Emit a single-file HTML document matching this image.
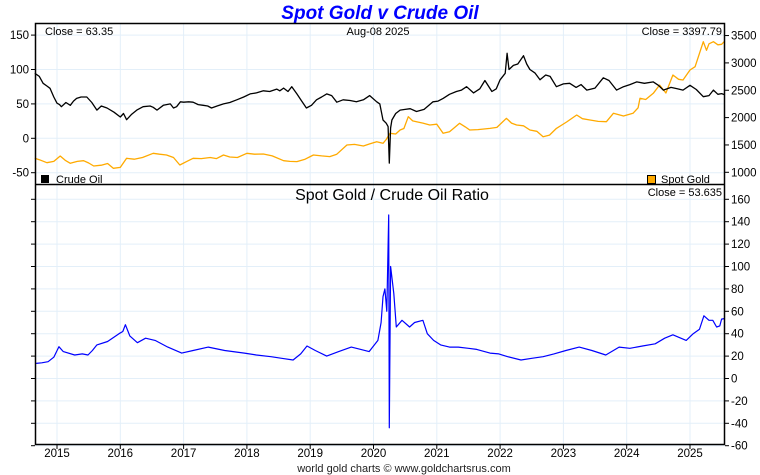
<!DOCTYPE html>
<html><head><meta charset="utf-8"><style>
html,body{margin:0;padding:0;background:#fff;}
svg{display:block;font-family:"Liberation Sans",sans-serif;}
</style></head><body>
<svg id="chart" width="760" height="475" viewBox="0 0 760 475">
<text x="380" y="19" text-anchor="middle" font-size="19" font-weight="bold" font-style="italic" fill="#0000ff">Spot Gold v Crude Oil</text>
<g id="grid"></g>
<g id="series"></g>
<rect x="35.5" y="23.5" width="689" height="421" fill="none" stroke="#000" stroke-width="1.5"/>
<line x1="35" y1="184.5" x2="725" y2="184.5" stroke="#000" stroke-width="1.5"/>
<g id="axes" font-size="11.5" fill="#000"></g>
<text x="45" y="35" font-size="11">Close = 63.35</text>
<text x="378" y="35" font-size="11" text-anchor="middle">Aug-08  2025</text>
<text x="722" y="35" font-size="11" text-anchor="end">Close = 3397.79</text>
<rect x="41" y="175" width="8" height="8" fill="#000"/>
<text x="56" y="183" font-size="11">Crude Oil</text>
<rect x="647.5" y="175.5" width="8" height="8" fill="#ffaa00" stroke="#000"/>
<text x="661" y="183" font-size="11">Spot Gold</text>
<text x="392" y="200" font-size="16" text-anchor="middle">Spot Gold  /  Crude Oil Ratio</text>
<text x="722" y="196" font-size="11" text-anchor="end">Close = 53.635</text>
<text x="404" y="472" font-size="11" text-anchor="middle" fill="#222">world gold charts © www.goldchartsrus.com</text>
</svg>
<script>
const years = [2015,2016,2017,2018,2019,2020,2021,2022,2023,2024,2025];
const oilTicks = [150,100,50,0,-50];
const goldTicks = [3500,3000,2500,2000,1500,1000];
const ratioTicks = [160,140,120,100,80,60,40,20,0,-20,-40,-60];

const oilDates = [2014.65,2014.72,2014.78,2014.84,2014.89,2014.95,2015.0,2015.04,2015.07,2015.14,2015.21,2015.26,2015.31,2015.38,2015.47,2015.55,2015.63,2015.70,2015.79,2015.90,2016.0,2016.05,2016.10,2016.18,2016.26,2016.36,2016.47,2016.52,2016.58,2016.68,2016.79,2016.84,2016.89,2016.95,2017.0,2017.08,2017.15,2017.23,2017.31,2017.38,2017.44,2017.53,2017.63,2017.73,2017.84,2017.95,2018.05,2018.15,2018.26,2018.36,2018.47,2018.52,2018.58,2018.65,2018.71,2018.79,2018.86,2018.94,2019.02,2019.10,2019.18,2019.26,2019.34,2019.42,2019.52,2019.63,2019.73,2019.84,2019.94,2020.05,2020.10,2020.15,2020.20,2020.23,2020.25,2020.27,2020.29,2020.35,2020.42,2020.50,2020.58,2020.68,2020.80,2020.94,2021.02,2021.10,2021.20,2021.31,2021.39,2021.47,2021.58,2021.68,2021.76,2021.87,2021.94,2022.0,2022.08,2022.11,2022.14,2022.21,2022.28,2022.37,2022.42,2022.47,2022.55,2022.63,2022.72,2022.79,2022.89,2023.0,2023.10,2023.20,2023.28,2023.37,2023.50,2023.63,2023.72,2023.84,2023.95,2024.05,2024.16,2024.28,2024.42,2024.50,2024.58,2024.70,2024.80,2024.89,2025.0,2025.10,2025.21,2025.30,2025.37,2025.44,2025.50,2025.55];
const oilVals = [94.5,90,80,76,72.7,60,51,49,46,52,48,54,58,60,60,52,41,47,44,38,31,36,27,35,41,46,47,45,41,48,50,44,46,53,52.5,53,52.5,49,48,47,44,47,50,52,56,60,64.5,66,69,68,71.5,69,73,68,75,64.5,55,44,48,56,60,64.5,62,52.5,56,55,53,56,62,53,50,26.6,22,17,-36,15,26.6,36,41,42,43,39,42,53,54,58,64,68,70,75,66,72,84,68,72,85,94.5,123.5,100,106,108,120,108,100,95,85,92,90,75,79,80,74,78,70,73,88,84,70,75,78,82,80,82,77,70,74,72,70,77,71,60.5,62,70,64,65,63.35];

const goldDates = [2014.65,2014.72,2014.84,2014.95,2015.05,2015.13,2015.21,2015.32,2015.42,2015.50,2015.58,2015.70,2015.80,2015.89,2016.0,2016.10,2016.22,2016.35,2016.52,2016.62,2016.73,2016.84,2016.94,2017.05,2017.15,2017.28,2017.42,2017.52,2017.63,2017.73,2017.85,2018.0,2018.12,2018.26,2018.40,2018.58,2018.68,2018.79,2018.92,2019.05,2019.18,2019.31,2019.42,2019.58,2019.70,2019.84,2019.94,2020.05,2020.15,2020.20,2020.26,2020.35,2020.42,2020.48,2020.55,2020.62,2020.68,2020.78,2020.89,2021.0,2021.10,2021.20,2021.36,2021.45,2021.52,2021.65,2021.84,2021.95,2022.10,2022.18,2022.26,2022.37,2022.47,2022.58,2022.68,2022.78,2022.89,2023.05,2023.21,2023.30,2023.42,2023.55,2023.68,2023.79,2023.95,2024.10,2024.18,2024.21,2024.30,2024.42,2024.52,2024.62,2024.73,2024.82,2024.89,2025.0,2025.08,2025.15,2025.21,2025.26,2025.30,2025.37,2025.44,2025.50,2025.55];
const goldVals = [1256,1230,1175,1200,1298,1220,1165,1200,1212,1170,1115,1130,1160,1073,1090,1256,1240,1270,1347,1330,1317,1270,1133,1200,1256,1250,1270,1250,1317,1280,1270,1347,1330,1335,1300,1212,1200,1195,1240,1317,1300,1287,1330,1500,1510,1480,1520,1560,1530,1600,1713,1700,1773,1800,2016,1940,1925,1900,1865,1880,1713,1740,1895,1830,1773,1780,1803,1820,1987,1900,1865,1850,1773,1750,1651,1680,1803,1920,2047,1980,1956,1930,1925,2078,2030,2078,2180,2352,2330,2444,2596,2450,2779,2700,2687,2870,2930,3176,3388,3230,3350,3388,3330,3340,3397.79];

const ratioDates = [2014.67,2014.76,2014.86,2014.95,2015.03,2015.10,2015.28,2015.40,2015.49,2015.56,2015.63,2015.80,2015.98,2016.04,2016.08,2016.15,2016.27,2016.40,2016.55,2016.75,2016.97,2017.15,2017.39,2017.65,2017.96,2018.15,2018.38,2018.55,2018.73,2018.85,2018.95,2019.08,2019.26,2019.45,2019.65,2019.80,2019.93,2020.07,2020.12,2020.15,2020.18,2020.21,2020.24,2020.25,2020.27,2020.32,2020.36,2020.45,2020.57,2020.65,2020.78,2020.85,2020.95,2021.06,2021.20,2021.34,2021.50,2021.63,2021.84,2021.98,2022.12,2022.33,2022.50,2022.68,2022.85,2023.04,2023.25,2023.45,2023.67,2023.88,2024.05,2024.25,2024.45,2024.60,2024.73,2024.94,2025.05,2025.15,2025.22,2025.30,2025.36,2025.42,2025.47,2025.50,2025.55];
const ratioVals = [13.5,14,15,19,28.4,24,21,22,21,25,30,33,40,42,48,38,32,36,34,28,22.7,25,28,25,22.7,21,19.5,18,16.5,22,29,25,20,24,28,26,24,34,50,73,80,60,146,-44,100,76,46,52,46,50,52,40,34,30,28,28,27,26,22.7,22,19.5,16.5,18,19.5,22,25,28,25,21,28,27,29,31,36,39,34,40,44,56,52,52,46,47,53,53.6];

const NS = 'http://www.w3.org/2000/svg';
const X0 = 35.5, X1 = 724.5;
function xs(y){ return 57 + (y - 2015) * 63.3; }
function yOil(v){ return 138.3 - v * 0.688; }
function yGold(v){ return 172.3 - (v - 1000) * 0.0547; }
function yRatio(v){ return 378.5 - v * 1.12; }
function mk(tag, attrs, parent){ const e = document.createElementNS(NS, tag); for (const k in attrs) e.setAttribute(k, attrs[k]); parent.appendChild(e); return e; }

const grid = document.getElementById('grid');
const axes = document.getElementById('axes');
const series = document.getElementById('series');

years.forEach(y => {
  const x = xs(y);
  const g = mk('line', {x1:x, x2:x, y1:24, y2:444, stroke:'#e3eff9', 'stroke-width':1}, grid);
  
  
  const t = mk('line', {x1:x, x2:x, y1:445, y2:449, stroke:'#000'}, axes);
  
  
  const l = mk('text', {x:x, y:457, 'text-anchor':'middle', 'font-size':11.5}, axes);
  l.textContent = y;
  
  
});

oilTicks.forEach(v => {
  const y = yOil(v);
  const g = mk('line', {x1:X0, x2:X1, y1:y, y2:y, stroke:'#e3eff9'}, grid);
  
  
  const t = mk('line', {x1:31, x2:35, y1:y, y2:y, stroke:'#000'}, axes);
  
  
  const l = mk('text', {x:29, y:y+4, 'text-anchor':'end'}, axes);
  l.textContent = v;
  
  
});

goldTicks.forEach(v => {
  const y = yGold(v);
  const t = mk('line', {x1:725, x2:729, y1:y, y2:y, stroke:'#000'}, axes);
  
  
  const l = mk('text', {x:731, y:y+4}, axes);
  l.textContent = v;
  
  
});

ratioTicks.forEach(v => {
  const y = yRatio(v);
  const g = mk('line', {x1:X0, x2:X1, y1:y, y2:y, stroke:'#e3eff9'}, grid);
  
  
  const t = mk('line', {x1:725, x2:729, y1:y, y2:y, stroke:'#000'}, axes);
  
  
  const tl = mk('line', {x1:31, x2:35, y1:y, y2:y, stroke:'#000'}, axes);
  
  
  const l = mk('text', {x:731, y:y+4}, axes);
  l.textContent = v;
  
  
});

function path(dates, vals, yf){ return dates.map((d,i) => (i?'L':'M') + xs(d).toFixed(1) + ',' + yf(vals[i]).toFixed(1)).join(''); }

const gp = mk('path', {d:path(goldDates, goldVals, yGold), fill:'none', stroke:'#ffaa00', 'stroke-width':1.3, 'stroke-linejoin':'round'}, series);


const op = mk('path', {d:path(oilDates, oilVals, yOil), fill:'none', stroke:'#000', 'stroke-width':1.3, 'stroke-linejoin':'round'}, series);


const rp = mk('path', {d:path(ratioDates, ratioVals, yRatio), fill:'none', stroke:'#0000ff', 'stroke-width':1.2, 'stroke-linejoin':'round'}, series);


</script>
</body></html>
